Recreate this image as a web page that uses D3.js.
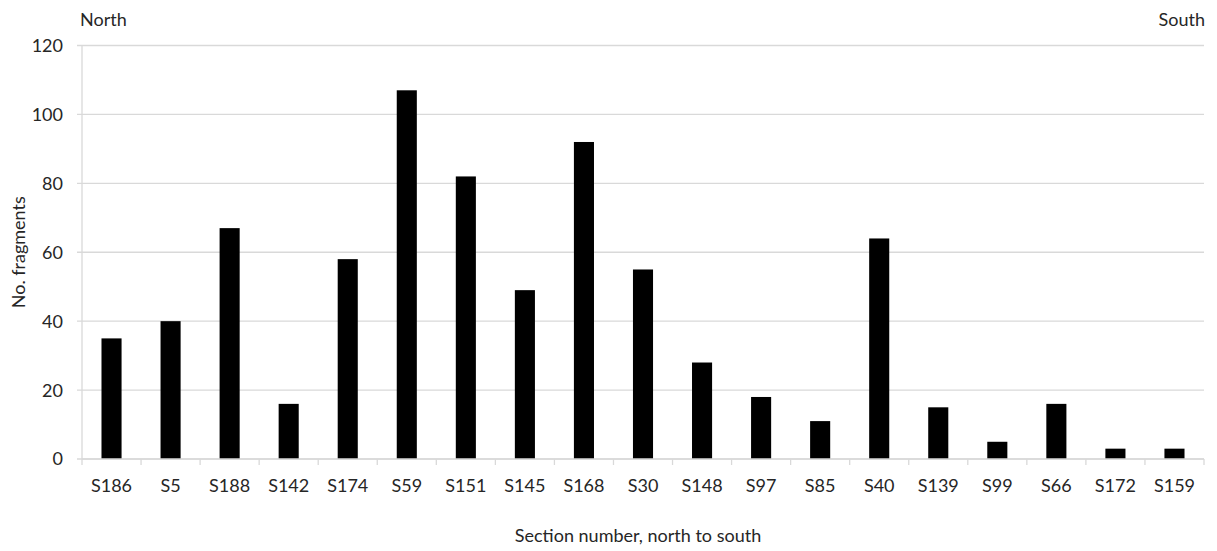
<!DOCTYPE html>
<html>
<head>
<meta charset="utf-8">
<script src="https://cdn.jsdelivr.net/npm/d3@7"></script>
<style>
  html, body { margin: 0; padding: 0; background: #fff; }
  svg { display: block; font-family: Lato, "Open Sans", sans-serif; }
</style>
</head>
<body>
<svg id="chart" width="1217" height="551"></svg>
<script>
// Fragment counts per section, ordered north to south
const sections = ["S186","S5","S188","S142","S174","S59","S151","S145","S168","S30","S148","S97","S85","S40","S139","S99","S66","S172","S159"];
const fragments = [35, 40, 67, 16, 58, 107, 82, 49, 92, 55, 28, 18, 11, 64, 15, 5, 16, 3, 3];
const yTicks = [0, 20, 40, 60, 80, 100, 120];

const svg = d3.select("#chart");
const margin = { left: 82, right: 13, top: 45.5, bottom: 92 };
const W = 1217, H = 551;
const textColor = "#262626";
const gridColor = "#d9d9d9";
const fontSize = 18;

const x = d3.scaleBand()
  .domain(sections)
  .range([margin.left, W - margin.right])
  .paddingInner(0.66)
  .paddingOuter(0.33);

const y = d3.scaleLinear()
  .domain([0, 120])
  .range([H - margin.bottom, margin.top]);

// Horizontal gridlines with short stubs left of the axis
svg.append("g")
  .selectAll("line")
  .data(yTicks)
  .join("line")
  .attr("x1", margin.left - 5)
  .attr("x2", W - margin.right)
  .attr("y1", d => y(d))
  .attr("y2", d => y(d))
  .attr("stroke", gridColor)
  .attr("stroke-width", 1.3);

// Vertical value axis line
svg.append("line")
  .attr("x1", margin.left).attr("x2", margin.left)
  .attr("y1", y(120)).attr("y2", y(0))
  .attr("stroke", gridColor).attr("stroke-width", 1.3);

// Y tick labels
svg.append("g")
  .selectAll("text")
  .data(yTicks)
  .join("text")
  .attr("x", margin.left - 19)
  .attr("y", d => y(d))
  .attr("dy", "0.36em")
  .attr("text-anchor", "end")
  .attr("fill", textColor)
  .attr("font-size", fontSize)
  .text(d => d);

// Bars
svg.append("g")
  .selectAll("rect")
  .data(sections)
  .join("rect")
  .attr("x", d => x(d))
  .attr("width", x.bandwidth())
  .attr("y", (d, i) => y(fragments[i]))
  .attr("height", (d, i) => y(0) - y(fragments[i]))
  .attr("fill", "#000");

// Category axis: baseline and tick marks between categories
const step = x.step();
const boundaries = d3.range(sections.length + 1).map(i => margin.left + i * step);
svg.append("line")
  .attr("x1", margin.left).attr("x2", W - margin.right)
  .attr("y1", y(0)).attr("y2", y(0))
  .attr("stroke", gridColor).attr("stroke-width", 1.3);
svg.append("g")
  .selectAll("line")
  .data(boundaries)
  .join("line")
  .attr("x1", d => d).attr("x2", d => d)
  .attr("y1", y(0)).attr("y2", y(0) + 6)
  .attr("stroke", gridColor).attr("stroke-width", 1.3);

// Category labels
svg.append("g")
  .selectAll("text")
  .data(sections)
  .join("text")
  .attr("x", d => x(d) + x.bandwidth() / 2)
  .attr("y", y(0) + 32.5)
  .attr("text-anchor", "middle")
  .attr("fill", textColor)
  .attr("font-size", fontSize)
  .text(d => d);

// Axis titles
svg.append("text")
  .attr("x", 638)
  .attr("y", 541.5)
  .attr("text-anchor", "middle")
  .attr("fill", textColor)
  .attr("font-size", fontSize)
  .text("Section number, north to south");

svg.append("text")
  .attr("transform", `translate(25, ${(y(0) + y(120)) / 2}) rotate(-90)`)
  .attr("text-anchor", "middle")
  .attr("fill", textColor)
  .attr("font-size", fontSize)
  .text("No. fragments");

// Direction labels
svg.append("text")
  .attr("x", 80).attr("y", 25.5)
  .attr("fill", textColor)
  .attr("font-size", fontSize)
  .text("North");

svg.append("text")
  .attr("x", 1205).attr("y", 25.5)
  .attr("text-anchor", "end")
  .attr("fill", textColor)
  .attr("font-size", fontSize)
  .text("South");
</script>
</body>
</html>
